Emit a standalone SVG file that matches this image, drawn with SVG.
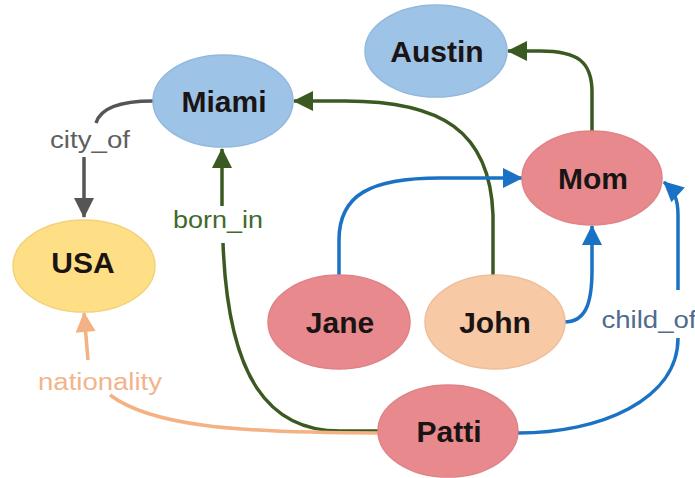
<svg xmlns="http://www.w3.org/2000/svg" width="695" height="478" viewBox="0 0 695 478">
<style>
.node-text{font-family:"Liberation Sans",Arial,sans-serif;font-weight:bold;font-size:30px;fill:#1a1414;text-anchor:middle}
.lbl{font-family:"Liberation Sans",Arial,sans-serif;font-size:23px;text-anchor:middle}
.e{fill:none;stroke-width:3.5;stroke-linecap:butt}
.blue-n{fill:#9dc3e6;stroke:#93b8dc;stroke-width:1.5}
.pink-n{fill:#e8898d;stroke:#df8387;stroke-width:1.5}
.peach-n{fill:#f8c9a5;stroke:#eebf9c;stroke-width:1.5}
.yellow-n{fill:#ffdf85;stroke:#f2d27c;stroke-width:1.5}
</style>
<defs>
<marker id="ag" viewBox="0 0 20 20" refX="19" refY="10" markerWidth="21" markerHeight="20" markerUnits="userSpaceOnUse" orient="auto"><path d="M0,0 L20,10 L0,20 z" fill="#3a5a22"/></marker>
<marker id="ab" viewBox="0 0 20 20" refX="19" refY="10" markerWidth="21" markerHeight="20" markerUnits="userSpaceOnUse" orient="auto"><path d="M0,0 L20,10 L0,20 z" fill="#1b72c4"/></marker>
<marker id="ak" viewBox="0 0 20 20" refX="19" refY="10" markerWidth="21" markerHeight="20" markerUnits="userSpaceOnUse" orient="auto"><path d="M0,0 L20,10 L0,20 z" fill="#555555"/></marker>
<marker id="ao" viewBox="0 0 20 20" refX="19" refY="10" markerWidth="21" markerHeight="20" markerUnits="userSpaceOnUse" orient="auto"><path d="M0,0 L20,10 L0,20 z" fill="#f4b183"/></marker>
</defs>
<rect width="695" height="478" fill="#ffffff"/>
<g id="connectors">
  <path class="e" stroke="#555555" d="M153,101 C125,101 101,106 96,123"/>
  <path class="e" stroke="#555555" d="M84,157 L84,217" marker-end="url(#ak)"/>
  <text class="lbl" x="90" y="148" fill="#5f5f5f" textLength="80" lengthAdjust="spacingAndGlyphs">city_of</text>
  <path class="e" stroke="#3a5a22" d="M222,206 L222,149" marker-end="url(#ag)"/>
  <path class="e" stroke="#3a5a22" d="M223,243 C228,380 270,431 340,431 L380,431"/>
  <text class="lbl" x="218" y="228" fill="#3f6b2a" textLength="90" lengthAdjust="spacingAndGlyphs">born_in</text>
  <path class="e" stroke="#3a5a22" d="M493,276 L493,215 C490,130 440,101 345,101 L294,101" marker-end="url(#ag)"/>
  <path class="e" stroke="#3a5a22" d="M592,132 L592,92 C592,62 578,51 540,51 L508,51" marker-end="url(#ag)"/>
  <path class="e" stroke="#1b72c4" d="M339,276 L339,240 C339,195 370,178 440,178 L522,178" marker-end="url(#ab)"/>
  <path class="e" stroke="#1b72c4" d="M564,322 C585,322 592,305 592,270 L592,226" marker-end="url(#ab)"/>
  <path class="e" stroke="#1b72c4" d="M518,433 C600,433 678,400 678,338"/>
  <path class="e" stroke="#1b72c4" d="M678,290 L678,215 C678,200 675,192 664,182" marker-end="url(#ab)"/>
  <text class="lbl" x="649" y="328" fill="#4f6b8f" textLength="95" lengthAdjust="spacingAndGlyphs">child_of</text>
  <path class="e" stroke="#f4b183" d="M110,395 C150,425 230,433 380,433"/>
  <path class="e" stroke="#f4b183" d="M88,360 L84,313" marker-end="url(#ao)"/>
  <text class="lbl" x="100" y="390" fill="#f2b48c" textLength="124" lengthAdjust="spacingAndGlyphs">nationality</text>
</g>
<g id="node-miami"><ellipse class="blue-n" cx="223" cy="101" rx="70" ry="46"/><text class="node-text" x="224" y="112">Miami</text></g>
<g id="node-austin"><ellipse class="blue-n" cx="436" cy="51" rx="71" ry="46"/><text class="node-text" x="437" y="62">Austin</text></g>
<g id="node-mom"><ellipse class="pink-n" cx="592" cy="178" rx="70" ry="47"/><text class="node-text" x="593" y="189">Mom</text></g>
<g id="node-usa"><ellipse class="yellow-n" cx="84" cy="266" rx="71" ry="46"/><text class="node-text" x="83" y="273">USA</text></g>
<g id="node-jane"><ellipse class="pink-n" cx="339" cy="322" rx="71" ry="47"/><text class="node-text" x="340" y="333">Jane</text></g>
<g id="node-john"><ellipse class="peach-n" cx="495" cy="322" rx="70" ry="47"/><text class="node-text" x="495" y="333">John</text></g>
<g id="node-patti"><ellipse class="pink-n" cx="448" cy="431" rx="70" ry="46"/><text class="node-text" x="449" y="442">Patti</text></g>
</svg>
